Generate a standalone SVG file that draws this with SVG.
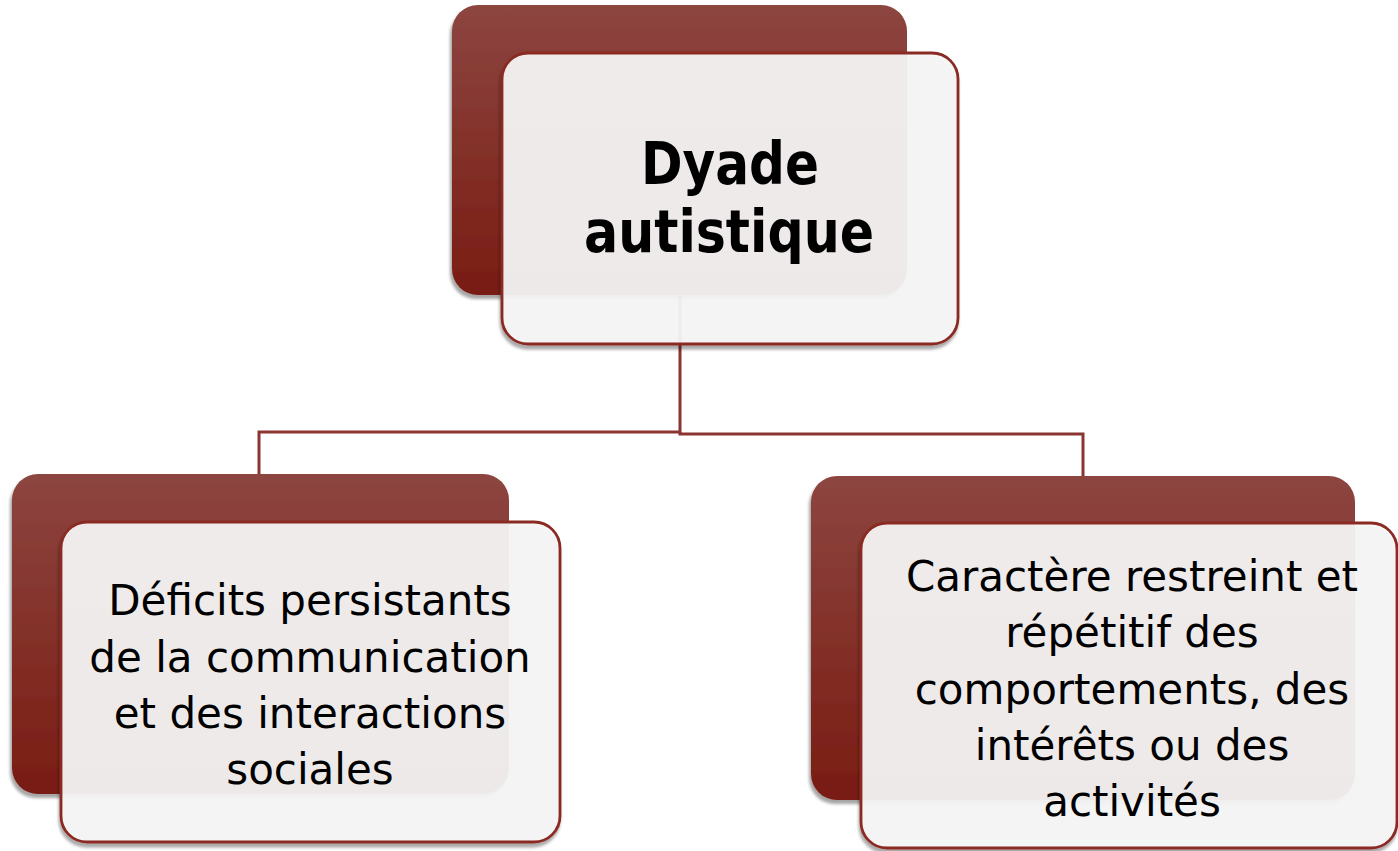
<svg xmlns="http://www.w3.org/2000/svg" width="1398" height="851" viewBox="0 0 1398 851">
<style>
.back{fill:url(#gBack);filter:url(#shB)}
.front{fill:#f6f6f6;fill-opacity:0.93;stroke:#8a2b23;stroke-width:2.8;filter:url(#shF)}
.conn{fill:none;stroke:#8b3530;stroke-width:3}
.t{font-family:"DejaVu Sans",Verdana,sans-serif;font-size:42px;fill:#000;text-anchor:middle}
.tb{font-family:"DejaVu Sans",Verdana,sans-serif;font-size:58px;font-weight:bold;fill:#000;text-anchor:middle}
</style>
<defs>
<linearGradient id="gBack" x1="0" y1="0" x2="0" y2="1">
<stop offset="0" stop-color="#8d4540"/>
<stop offset="1" stop-color="#791c12"/>
</linearGradient>
<filter id="shB" x="-10%" y="-10%" width="120%" height="125%">
<feDropShadow dx="-2" dy="4" stdDeviation="1.5" flood-color="#000" flood-opacity="0.35"/>
</filter>
<filter id="shF" x="-10%" y="-10%" width="120%" height="125%">
<feDropShadow dx="-1" dy="4" stdDeviation="1.5" flood-color="#000" flood-opacity="0.35"/>
</filter>
</defs>
<g id="connectors">
<polyline class="conn" points="680,294 680,432 259,432 259,475"/>
<polyline class="conn" points="680,432 680,434 1083,434 1083,477"/>
</g>
<g id="node-dyade">
<rect class="back" x="452" y="5" width="455" height="290" rx="26"/>
<rect class="front" x="502" y="53" width="456" height="291" rx="26"/>
<text class="tb" x="730" y="184" textLength="178" lengthAdjust="spacingAndGlyphs">Dyade</text>
<text class="tb" x="729" y="252" textLength="290" lengthAdjust="spacingAndGlyphs">autistique</text>
</g>
<g id="node-deficits">
<rect class="back" x="12" y="474" width="497" height="320" rx="26"/>
<rect class="front" x="61" y="522" width="499" height="320" rx="26"/>
<text class="t" x="310" y="615">Déficits persistants</text>
<text class="t" x="310" y="672">de la communication</text>
<text class="t" x="310" y="728">et des interactions</text>
<text class="t" x="310" y="784">sociales</text>
</g>
<g id="node-caractere">
<rect class="back" x="811" y="476" width="544" height="324" rx="26"/>
<rect class="front" x="861" y="523" width="536" height="325" rx="26"/>
<text class="t" x="1132" y="591">Caractère restreint et</text>
<text class="t" x="1132" y="647">répétitif des</text>
<text class="t" x="1132" y="704">comportements, des</text>
<text class="t" x="1132" y="760">intérêts ou des</text>
<text class="t" x="1132" y="816">activités</text>
</g>
</svg>
